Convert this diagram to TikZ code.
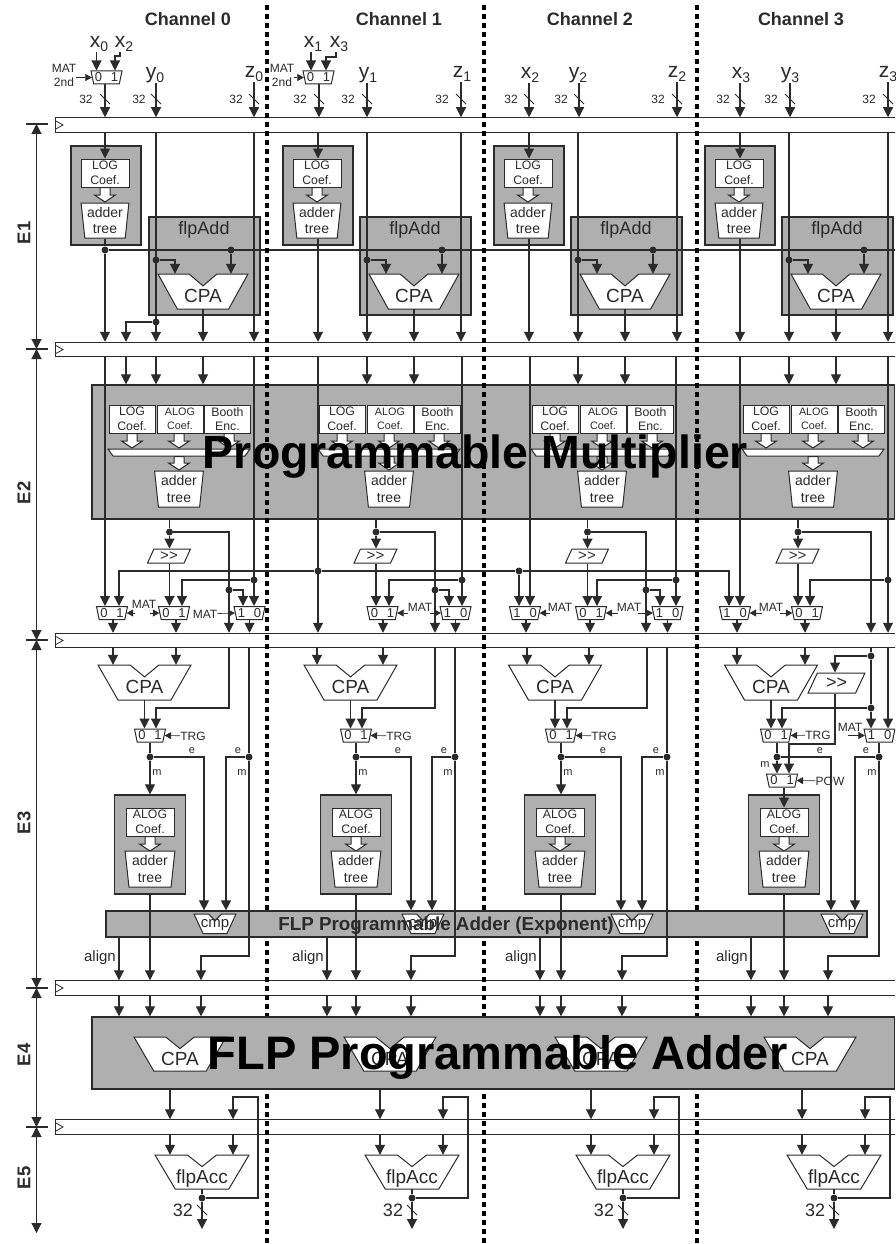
\documentclass[tikz,border=0pt]{standalone}
\usepackage{fontspec}
\setmainfont{Liberation Sans}
\usetikzlibrary{arrows.meta,shapes.geometric}
\definecolor{wirecol}{HTML}{2B2B2B}
\definecolor{blockgray}{HTML}{AFAFAF}
\newcommand{\fsz}[1]{\fontsize{#1}{#1}\selectfont}
\newcommand{\sig}[2]{\fsz{21}#1\raisebox{-4pt}{\fsz{14}#2}}
\newcommand{\fatdown}[3]{\draw[wire,fill=white,line width=1pt] (#1-5,#2) -- (#1+5,#2) -- (#1+5,#3-7) -- (#1+10.5,#3-7) -- (#1,#3) -- (#1-10.5,#3-7) -- (#1-5,#3-7) -- cycle;}
\newcommand{\adderblk}[7][.64]{%
  \node[inner sep=0pt,minimum width=2*#5,minimum height=#6] (#2) at (#3,#4+#6/2) {};
  \draw[wire,fill=white,line width=1pt] (#3-#5,#4) -- (#3-.31*#5,#4) -- (#3,#4+.34*#6) -- (#3+.31*#5,#4) -- (#3+#5,#4) -- (#3+.57*#5,#4+#6) -- (#3-.57*#5,#4+#6) -- cycle;
  \node[font=\fsz{19},text=wirecol,inner sep=0pt] (#2t) at (#3,#4+#1*#6) {#7};}
\newcommand{\busmark}[2]{\draw[draw=wirecol,line width=.8pt] (#1-5,#2-5) -- (#1+5,#2+5);}
\begin{document}
\begin{tikzpicture}[x=1pt,y=-1pt,
    wire/.style={draw=wirecol,line width=1.1pt},
    arr/.style={wire,-{Triangle[length=10pt,width=10pt]}},
    both/.style={wire,{Triangle[length=10pt,width=10pt]}-{Triangle[length=10pt,width=10pt]}},
    ctl/.style={draw=wirecol,line width=.6pt,-{Triangle[length=6.5pt,width=7pt]}},
    dot/.style={circle,fill=wirecol,inner sep=0pt,minimum size=7pt},
    barbox/.style={draw=wirecol,fill=white,line width=1pt,minimum width=841pt,minimum height=14.5pt,inner sep=0pt},
    grayblk/.style={draw=wirecol,fill=blockgray,line width=1.2pt,inner sep=0pt},
    coefbox/.style={draw=wirecol,fill=white,line width=1pt,inner sep=0pt,align=center,text=wirecol,minimum width=46pt,minimum height=28pt,font=\fontsize{12.3}{14.5}\selectfont},
    treebox/.style={trapezium,trapezium stretches=true,trapezium left angle=83,trapezium right angle=83,shape border rotate=180,draw=wirecol,fill=white,line width=1pt,inner sep=0pt,align=center,text=wirecol,minimum width=49pt,minimum height=36pt,font=\fontsize{14}{16.5}\selectfont},
    muxbox/.style={trapezium,trapezium stretches=true,trapezium left angle=75,trapezium right angle=75,shape border rotate=180,draw=wirecol,fill=white,line width=1pt,inner sep=0pt,text=wirecol,minimum width=31pt,minimum height=13pt,font=\fsz{13}},
    shiftbox/.style={trapezium,trapezium stretches=true,trapezium left angle=67,trapezium right angle=113,draw=wirecol,fill=white,line width=1pt,inner sep=0pt,text=wirecol,minimum width=43pt,minimum height=14pt,font=\fsz{15}},
    small/.style={text=wirecol,inner sep=0pt,font=\fsz{12}},
    tiny/.style={text=wirecol,inner sep=0pt,font=\fsz{11}},
    sigl/.style={text=wirecol,inner sep=0pt,anchor=south},
    aligntxt/.style={text=wirecol,inner sep=0pt,anchor=east,font=\fsz{15}},
    bigtxt/.style={text=black,inner sep=0pt,font=\fsz{46.5}\bfseries}]
  \useasboundingbox (0,0) rectangle (895,1244);
  \clip (0,0) rectangle (895,1244);
  \fill[white] (0,0) rectangle (895,1244);
  \foreach \n/\lc in {0/188,1/399,2/590,3/801}
    \node[font=\fsz{18}\bfseries,text=wirecol,inner sep=0pt] (chan\n) at (\lc,19) {Channel \n};

  \foreach \n/\yb in {1/125,2/349.5,3/640.5,4/988,5/1127}{
    \node[barbox] (bar\n) at (475.5,\yb) {};
    \draw[wire,line width=.8pt] (55,\yb-4.5) -- (63,\yb) -- (55,\yb+4.5);
  }
  \coordinate (stage0) at (36.5,124);
  \coordinate (stage1) at (36.5,349);
  \coordinate (stage2) at (36.5,640);
  \coordinate (stage3) at (36.5,988);
  \coordinate (stage4) at (36.5,1127);
  \coordinate (stage5) at (36.5,1233);
  \foreach \a/\b in {0/1,1/2,2/3,3/4,4/5}
    \draw[both] (stage\a) -- (stage\b);
  \foreach \a in {0,1,2,3,4}
    \draw[wire] (stage\a) ++(-11,0) -- ++(22,0);
  \foreach \n/\yb in {1/233,2/493,3/823,4/1055,5/1178}
    \node[font=\fsz{18.5}\bfseries,text=wirecol,inner sep=0pt,rotate=90] (stagelab\n) at (24,\yb) {E\n};

  \node[small,align=center] (matin0) at (64,75) {MAT\\[2pt]2nd};
  \node[small,align=center] (matin1) at (282,75) {MAT\\[2pt]2nd};
  \node[muxbox] (muxin0) at (106.5,77.5) {0\kern9pt1};
  \node[muxbox] (muxin1) at (318.5,77.5) {0\kern9pt1};
  \node[sigl] (lx0) at (99,52) {\sig{x}{0}};
  \node[sigl] (lxb0) at (124,52) {\sig{x}{2}};
  \node[sigl] (lx1) at (313,52) {\sig{x}{1}};
  \node[sigl] (lxb1) at (339,52) {\sig{x}{3}};
  \node[sigl] (lx2) at (530,83) {\sig{x}{2}};
  \node[sigl] (lx3) at (741,83) {\sig{x}{3}};
  \foreach \n/\yl/\zl in {0/155/254,1/368/462,2/578/677,3/790/888}{
    \node[sigl] (ly\n) at (\yl,83) {\sig{y}{\n}};
    \node[sigl] (lz\n) at (\zl,82) {\sig{z}{\n}};
  }
  \draw[arr] (96.5,0 |- lx0.south) -- (96.5,0 |- muxin0.north);
  \draw[arr] (120,0 |- lxb0.south) -- (120,56) -| (115,0 |- muxin0.north);
  \draw[arr] (311,0 |- lx1.south) -- (311,0 |- muxin1.north);
  \draw[arr] (336,0 |- lxb1.south) -- (336,57) -| (326,0 |- muxin1.north);
  \draw[ctl] (matin0.east |- muxin0.west) -- (muxin0.west);
  \draw[ctl] (matin1.east |- muxin1.west) -- (muxin1.west);
  \foreach \n/\src/\bx/\lb in {a/muxin0/105/86,b/ly0/156/139,c/lz0/254/236,d/muxin1/319/300,e/ly1/367/348,f/lz1/461/442,g/lx2/529/511,h/ly2/579/561,j/lz2/677/658,k/lx3/740/723,l/ly3/790/771,m/lz3/888/869}{
    \draw[arr] (\bx,0 |- \src.south) -- (\bx,0 |- bar1.north);
    \busmark{\bx}{99}
    \node[small] (bus\n) at (\lb,99) {32};
  }

  \foreach \n/\lc/\lw in {0/105/105,1/317/318,2/528/529,3/739/740}{
    \node[grayblk,minimum width=70pt,minimum height=99pt] (logblk\n) at (\lc+1,195.5) {};
    \node[coefbox,minimum width=48pt] (logc\n) at (\lc,173) {LOG\\Coef.};
    \fatdown{\lc}{187.5}{202}
    \node[treebox,minimum width=48pt,minimum height=35pt] (tree\n) at (\lc,220.5) {adder\\tree};
    \draw[arr] (\lw,0 |- bar1.south) -- (\lw,0 |- logc\n.north);
  }
  \foreach \n/\lw in {1/318,2/529,3/740}
    \draw[arr] (\lw,0 |- tree\n.south) -- (\lw,0 |- bar2.north);

  \foreach \n/\cx/\yw/\zw in {0/203/156/254,1/414/367/461,2/625/578/677,3/836/789/888}{
    \node[grayblk,minimum width=111pt,minimum height=98pt] (flpadd\n) at (\cx+1.5,266) {};
    \node[font=\fsz{18},text=wirecol,inner sep=0pt] (flpaddt\n) at (\cx+1,230) {flpAdd};
    \adderblk{cpaf\n}{\cx}{274}{45}{35}{CPA}
    \draw[arr] (\cx,0 |- cpaf\n.south) -- (\cx,0 |- bar2.north);
    \node[dot] (ytap\n) at (\yw,260) {};
    \node[dot] (rtap\n) at (\cx+28,250) {};
    \draw[arr] (\yw,0 |- bar1.south) -- (\yw,0 |- bar2.north);
    \draw[arr] (ytap\n) -| (\cx-28,0 |- cpaf\n.north);
    \draw[arr] (rtap\n) -- (\cx+28,0 |- cpaf\n.north);
    \draw[arr] (\zw,0 |- bar1.south) -- (\zw,0 |- bar2.north);
  }
  \node[dot] (hub) at (105,250) {};
  \draw[wire] (105,0 |- tree0.south) -- (hub);
  \draw[arr] (hub) -- (105,0 |- bar2.north);
  \draw[wire] (hub) -- (bar1.east |- hub);
  \node[dot] (ytapb) at (156,322) {};
  \draw[arr] (ytapb) -| (126,0 |- bar2.north);

  \node[grayblk,minimum width=802.5pt,minimum height=134pt] (mulblk) at (493.25,452) {};
  \foreach \n/\dx in {0/0,1/210,2/423,3/634}{
    \node[coefbox] (logm\n) at (132+\dx,419) {LOG\\Coef.};
    \node[coefbox,font=\fontsize{10.8}{14.5}\selectfont] (alogm\n) at (180+\dx,419) {ALOG\\Coef.};
    \node[coefbox] (booth\n) at (227.5+\dx,419) {Booth\\Enc.};
    \fatdown{132+\dx}{433.5}{448}
    \fatdown{179+\dx}{433.5}{448}
    \fatdown{229+\dx}{433.5}{448}
    \draw[wire,fill=white,line width=1pt] (108+\dx,449) -- (250+\dx,449) -- (245+\dx,456) -- (113+\dx,456) -- cycle;
    \fatdown{179+\dx}{456.5}{470}
    \node[treebox] (treem\n) at (179+\dx,489) {adder\\tree};
  }
  \draw[arr] (126,0 |- bar2.south) -- (126,0 |- mulblk.north);
  \foreach \yw/\cx in {156/203,367/414,578/625,789/836}{
    \draw[arr] (\yw,0 |- bar2.south) -- (\yw,0 |- mulblk.north);
    \draw[arr] (\cx,0 |- bar2.south) -- (\cx,0 |- mulblk.north);
  }

  \node[muxbox] (muxa0) at (112,613) {0\kern9pt1};
  \node[muxbox] (muxa2) at (525,613) {1\kern9pt0};
  \node[muxbox] (muxa3) at (735,613) {1\kern9pt0};
  \foreach \n/\ox/\mbx/\mbi/\mbo/\pw/\zw in {0/169.5/174/182/176/229/254,1/376/382.5/389/383/435/462,2/587.5/591/597/590/646/676,3/798/807/810/805/871/888}{
    \node[shiftbox] (shf\n) at (\ox-.5,556) {>{}>};
    \node[muxbox] (muxb\n) at (\mbx,613) {0\kern9pt1};
    \node[dot] (split\n) at (\ox,532) {};
    \node[dot] (ztap\n) at (\zw,580) {};
    \draw[wire] (\ox,0 |- mulblk.south) -- (split\n);
    \draw[arr] (split\n) -- (\ox,0 |- shf\n.north);
    \draw[arr] (\ox,0 |- shf\n.south) -- (\ox,0 |- muxb\n.north);
    \draw[arr] (split\n) -| (\pw,0 |- bar3.north);
    \draw[arr] (ztap\n) -| (\mbi,0 |- muxb\n.north);
    \draw[arr] (\mbo,0 |- muxb\n.south) -- (\mbo,0 |- bar3.north);
  }
  \foreach \n/\mcx/\pw/\mci/\zw in {0/249.5/229/243/254,1/455.5/435/449/462,2/667.5/646/660/676}{
    \node[muxbox] (muxc\n) at (\mcx,613) {1\kern9pt0};
    \node[dot] (ptap\n) at (\pw,590) {};
    \draw[arr] (ptap\n) -| (\mci,0 |- muxc\n.north);
    \draw[arr] (\zw,0 |- bar2.south) -- (\zw,0 |- muxc\n.north);
    \draw[arr] (\mcx,0 |- muxc\n.south) -- (\mcx,0 |- bar3.north);
  }
  \draw[arr] (888,0 |- bar2.south) -- (888,0 |- bar3.north);
  \draw[arr] (105,0 |- bar2.south) -- (105,0 |- muxa0.north);
  \draw[arr] (530,0 |- bar2.south) -- (530,0 |- muxa2.north);
  \draw[arr] (740,0 |- bar2.south) -- (740,0 |- muxa3.north);
  \draw[arr] (318,0 |- bar2.south) -- (318,0 |- bar3.north);
  \node[dot] (tapb) at (318,571) {};
  \node[dot] (tapc) at (519,571) {};
  \draw[arr] (tapb) -| (119,0 |- muxa0.north);
  \draw[wire] (tapb) -- (tapc);
  \draw[arr] (tapc) -- (519,0 |- muxa2.north);
  \draw[arr] (tapc) -| (729,0 |- muxa3.north);
  \foreach \n/\mo in {0/113,2/526,3/737}
    \draw[arr] (\mo,0 |- muxa\n.south) -- (\mo,0 |- bar3.north);
  \node[small] (mat0a) at (144,604) {MAT};
  \node[small] (mat0b) at (205,614) {MAT};
  \node[small] (mat1a) at (420,607) {MAT};
  \node[small] (mat2a) at (560,607) {MAT};
  \node[small] (mat2b) at (629,607) {MAT};
  \node[small] (mat3a) at (771,607) {MAT};
  \draw[ctl] (135,0 |- muxa0.east) -- (muxa0.east);
  \draw[ctl] (150,0 |- muxb0.west) -- (muxb0.west);
  \draw[ctl] (mat0b) -- (muxc0.west);
  \draw[ctl] (408,0 |- muxb1.east) -- (muxb1.east);
  \draw[ctl] (430,0 |- muxc1.west) -- (muxc1.west);
  \draw[ctl] (550,0 |- muxa2.east) -- (muxa2.east);
  \draw[ctl] (618,0 |- muxb2.east) -- (muxb2.east);
  \draw[ctl] (638,0 |- muxc2.west) -- (muxc2.west);
  \draw[ctl] (762,0 |- muxa3.east) -- (muxa3.east);
  \draw[ctl] (780,0 |- muxb3.west) -- (muxb3.west);

  \foreach \n/\lc/\cw in {0/150/50,1/356/50,2/560/50,3/784/50}{
    \node[grayblk,minimum width=71pt,minimum height=99pt] (alogblk\n) at (\lc,844.5) {};
    \node[coefbox,minimum width=48pt] (alogc\n) at (\lc,822) {ALOG\\Coef.};
    \fatdown{\lc}{836.5}{851}
    \node[treebox,minimum width=50pt] (treea\n) at (\lc,869) {adder\\tree};
  }
  \foreach \x in {267,484,697}
    \draw[draw=black,line width=3.2pt,dash pattern=on 5pt off 4pt] (\x,5) -- (\x,1244);
  \node[grayblk,minimum width=761pt,minimum height=26pt] (flpexp) at (486.5,924) {};
  \foreach \n/\cmpx in {0/215,1/423,2/632,3/842}{
    \adderblk[.55]{cmp\n}{\cmpx}{914}{21}{19.5}{\fsz{15}cmp}
  }

  \foreach \n/\cx/\ia/\ib/\mx/\pw/\tw/\ea/\eb in {0/144.5/113/176/150/229/249/204/226,1/350.5/317/383/356/435/455/411/432,2/555/527/589/561/647/667/621/642}{
    \adderblk{cpae\n}{\cx}{665}{46.5}{35}{CPA}
    \draw[arr] (\ia,0 |- bar3.south) -- (\ia,0 |- cpae\n.north);
    \draw[arr] (\ib,0 |- bar3.south) -- (\ib,0 |- cpae\n.north);
    \node[muxbox] (muxt\n) at (\mx,735.5) {0\kern9pt1};
    \node[small] (trg\n) at (\mx+43,736) {TRG};
    \draw[ctl] (trg\n) -- (muxt\n.east);
    \draw[arr] (\cx,0 |- cpae\n.south) -- (\cx,0 |- muxt\n.north);
    \draw[arr] (\pw,0 |- bar3.south) -- (\pw,708) -| (\mx+6,0 |- muxt\n.north);
    \node[dot] (mtap\n) at (\mx,757) {};
    \draw[wire] (\mx,0 |- muxt\n.south) -- (mtap\n);
    \draw[arr] (mtap\n) -- (\mx,0 |- alogblk\n.north);
    \draw[arr] (mtap\n) -| (\ea,0 |- flpexp.north);
    \node[dot] (etap\n) at (\tw,757) {};
    \draw[wire] (\tw,0 |- bar3.south) -- (etap\n);
    \draw[arr] (etap\n) -| (\eb,0 |- flpexp.north);
    \node[tiny] (ema\n) at (\mx+42,751) {e};
    \node[tiny] (emb\n) at (\tw-11,751) {e};
    \node[tiny] (mma\n) at (\mx+7,773) {m};
    \node[tiny] (mmb\n) at (\tw-7,773) {m};
  }
  \foreach \n/\tw/\bw in {0/249/201,1/455/411,2/667/622}
    \draw[arr] (etap\n) -- (\tw,956) -| (\bw,0 |- bar4.north);

  \adderblk{cpae3}{771}{665}{46.5}{35}{CPA}
  \draw[arr] (737,0 |- bar3.south) -- (737,0 |- cpae3.north);
  \draw[arr] (805,0 |- bar3.south) -- (805,0 |- cpae3.north);
  \node[shiftbox,minimum width=57pt,minimum height=20pt,font=\fsz{18},trapezium left angle=64,trapezium right angle=116] (shfe) at (836.5,683) {>{}>};
  \node[muxbox] (muxt3) at (776,735.5) {0\kern9pt1};
  \node[muxbox] (muxp) at (782,780.5) {0\kern9pt1};
  \node[muxbox] (muxe) at (879.5,735.5) {1\kern9pt0};
  \node[small] (trg3) at (818,735) {TRG};
  \node[small] (pow3) at (830,781) {POW};
  \node[small] (mate) at (850,727) {MAT};
  \draw[ctl] (trg3) -- (muxt3.east);
  \draw[ctl] (pow3) -- (muxp.east);
  \draw[ctl] (848,0 |- muxe.west) -- (muxe.west);
  \node[dot] (stap) at (871,656) {};
  \node[dot] (stapb) at (871,708) {};
  \draw[wire] (871,0 |- bar3.south) -- (stap);
  \draw[wire] (stap) -- (stapb);
  \draw[arr] (stap) -| (835,0 |- shfe.north);
  \draw[arr] (stapb) -- (871,0 |- muxe.north);
  \draw[arr] (stapb) -| (782,0 |- muxt3.north);
  \draw[arr] (771,0 |- cpae3.south) -- (771,0 |- muxt3.north);
  \draw[arr] (888,0 |- bar3.south) -- (888,0 |- muxe.north);
  \draw[arr] (835,0 |- shfe.south) -- (835,744) -| (789,0 |- muxp.north);
  \node[dot] (mtap3) at (777,757) {};
  \node[dot] (etap3) at (879,757) {};
  \draw[wire] (777,0 |- muxt3.south) -- (mtap3);
  \draw[arr] (mtap3) -- (777,0 |- muxp.north);
  \draw[arr] (mtap3) -| (831,0 |- flpexp.north);
  \draw[wire] (879,0 |- muxe.south) -- (etap3);
  \draw[arr] (etap3) -| (855,0 |- flpexp.north);
  \draw[arr] (etap3) -- (879,956) -| (828,0 |- bar4.north);
  \draw[arr] (784,0 |- muxp.south) -- (784,0 |- alogc3.north);
  \node[tiny] (ema3) at (820,751) {e};
  \node[tiny] (emb3) at (866,751) {e};
  \node[tiny] (mma3) at (765,765) {m};
  \node[tiny] (mmb3) at (872,773) {m};

  \foreach \n/\lc/\al in {0/150/119,1/356/327,2/561/540,3/784/751}{
    \draw[arr] (\lc,0 |- alogblk\n.south) -- (\lc,0 |- bar4.north);
    \draw[arr] (\al,0 |- flpexp.south) -- (\al,0 |- bar4.north);
    \node[aligntxt] (algn\n) at (\al-3,958) {align};
  }

  \node[grayblk,minimum width=802.5pt,minimum height=72pt] (addblk) at (493.25,1053) {};
  \foreach \a/\b/\c in {119/150/201,327/356/411,540/561/622,751/784/828}
    \foreach \x in {\a,\b,\c}
      \draw[arr] (\x,0 |- bar4.south) -- (\x,0 |- addblk.north);
  \foreach \n/\dx/\ac/\ca in {0/0/202/180,1/210/412/390,2/421/623/601,3/632/834/810}{
    \adderblk[.66]{cpag\n}{\ca}{1037}{46}{34}{CPA}
    \adderblk[.7]{acc\n}{\ac}{1155}{47}{34}{flpAcc}
    \draw[arr] (170+\dx,0 |- addblk.south) -- (170+\dx,0 |- bar5.north);
    \draw[arr] (170+\dx,0 |- bar5.south) -- (170+\dx,0 |- acc\n.north);
    \node[dot] (fbk\n) at (\ac,1198) {};
    \coordinate (out\n) at (\ac,1229);
    \draw[wire] (\ac,0 |- acc\n.south) -- (fbk\n);
    \draw[arr] (fbk\n) -- (out\n);
    \busmark{\ac}{1210}
    \node[text=wirecol,inner sep=0pt,font=\fsz{18}] (busacc\n) at (\ac-19,1210) {32};
    \draw[arr] (fbk\n) -- (258+\dx,1198) -- (258+\dx,1097) -| (233+\dx,0 |- bar5.north);
    \draw[arr] (233+\dx,0 |- bar5.south) -- (233+\dx,0 |- acc\n.north);
  }

  \node[text=wirecol,inner sep=0pt,font=\fsz{18.8}\bfseries] (exptxt) at (446,926) {FLP Programmable Adder (Exponent)};
  \node[bigtxt] (multxt) at (475.5,457) {Programmable Multiplier};
  \node[bigtxt,font=\fsz{47}\bfseries] (addtxt) at (497.5,1057) {FLP Programmable Adder};
\end{tikzpicture}
\end{document}
